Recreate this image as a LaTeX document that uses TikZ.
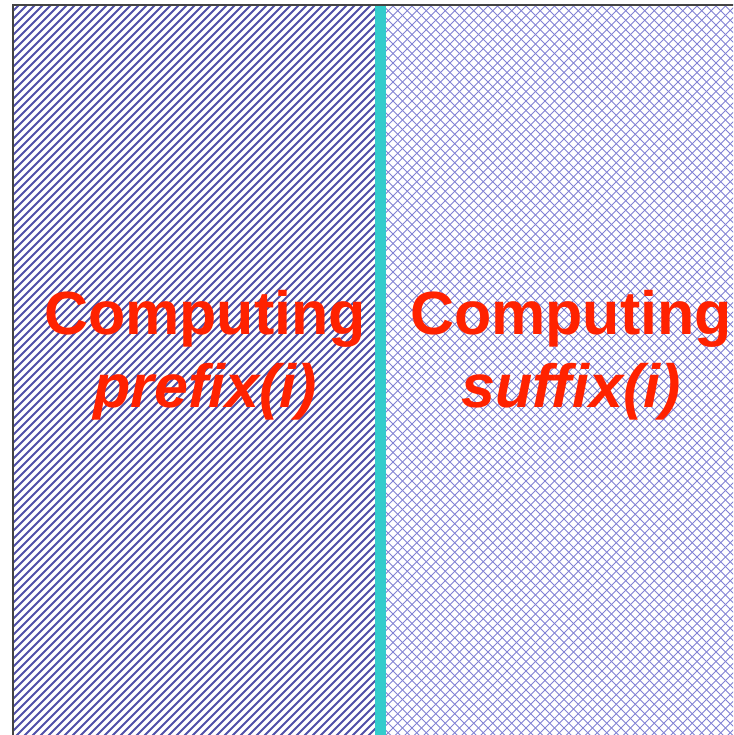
\documentclass[tikz,border=0pt]{standalone}
\usepackage{fontspec}
\setmainfont{Liberation Sans}
\usetikzlibrary{positioning}
\definecolor{hatchblue}{HTML}{5050A8}
\definecolor{crossblue}{HTML}{8282D4}
\definecolor{divider}{HTML}{33CCCC}
\definecolor{redtext}{HTML}{FF2200}
\definecolor{frame}{HTML}{444444}
\tikzset{
  hatch/.style={hatchblue,line width=2pt},
  cross/.style={crossblue,line width=1pt},
  bigword/.style={text=redtext,font=\fontsize{61}{75}\selectfont\bfseries,anchor=base,inner sep=0pt},
  frameline/.style={draw=frame,line width=2pt}
}

\begin{document}
\begin{tikzpicture}[x=1pt,y=1pt]
    \clip (0,0) rectangle (733,735);
    \fill[white] (0,0) rectangle (733,735);

    % left half: single hatching
    \begin{scope}
      \clip (13,-5) rectangle (375,730);
      \foreach \i in {-740,-732,...,380}
        \draw[hatch] (\i,-5) -- ++(745,745);
    \end{scope}

    % right half: cross hatching
    \begin{scope}
      \clip (386,-5) rectangle (740,730);
      \foreach \i in {-360,-350.5,...,740}
        \draw[cross] (\i,-5) -- ++(745,745);
      \foreach \i in {386,395.5,...,1480}
        \draw[cross] (\i,-5) -- ++(-745,745);
    \end{scope}

    \fill[divider] (375,-5) rectangle (386,730);
    \draw[frameline] (13,-10) |- (745,730);

    \node[bigword] (pretop) at (205,400) {Computing};
    \node[bigword] (prebot) at (205,327) {\itshape prefix(i)};
    \node[bigword] (suftop) at (571,400) {Computing};
    \node[bigword] (sufbot) at (571,327) {\itshape suffix(i)};
  \end{tikzpicture}
\end{document}
